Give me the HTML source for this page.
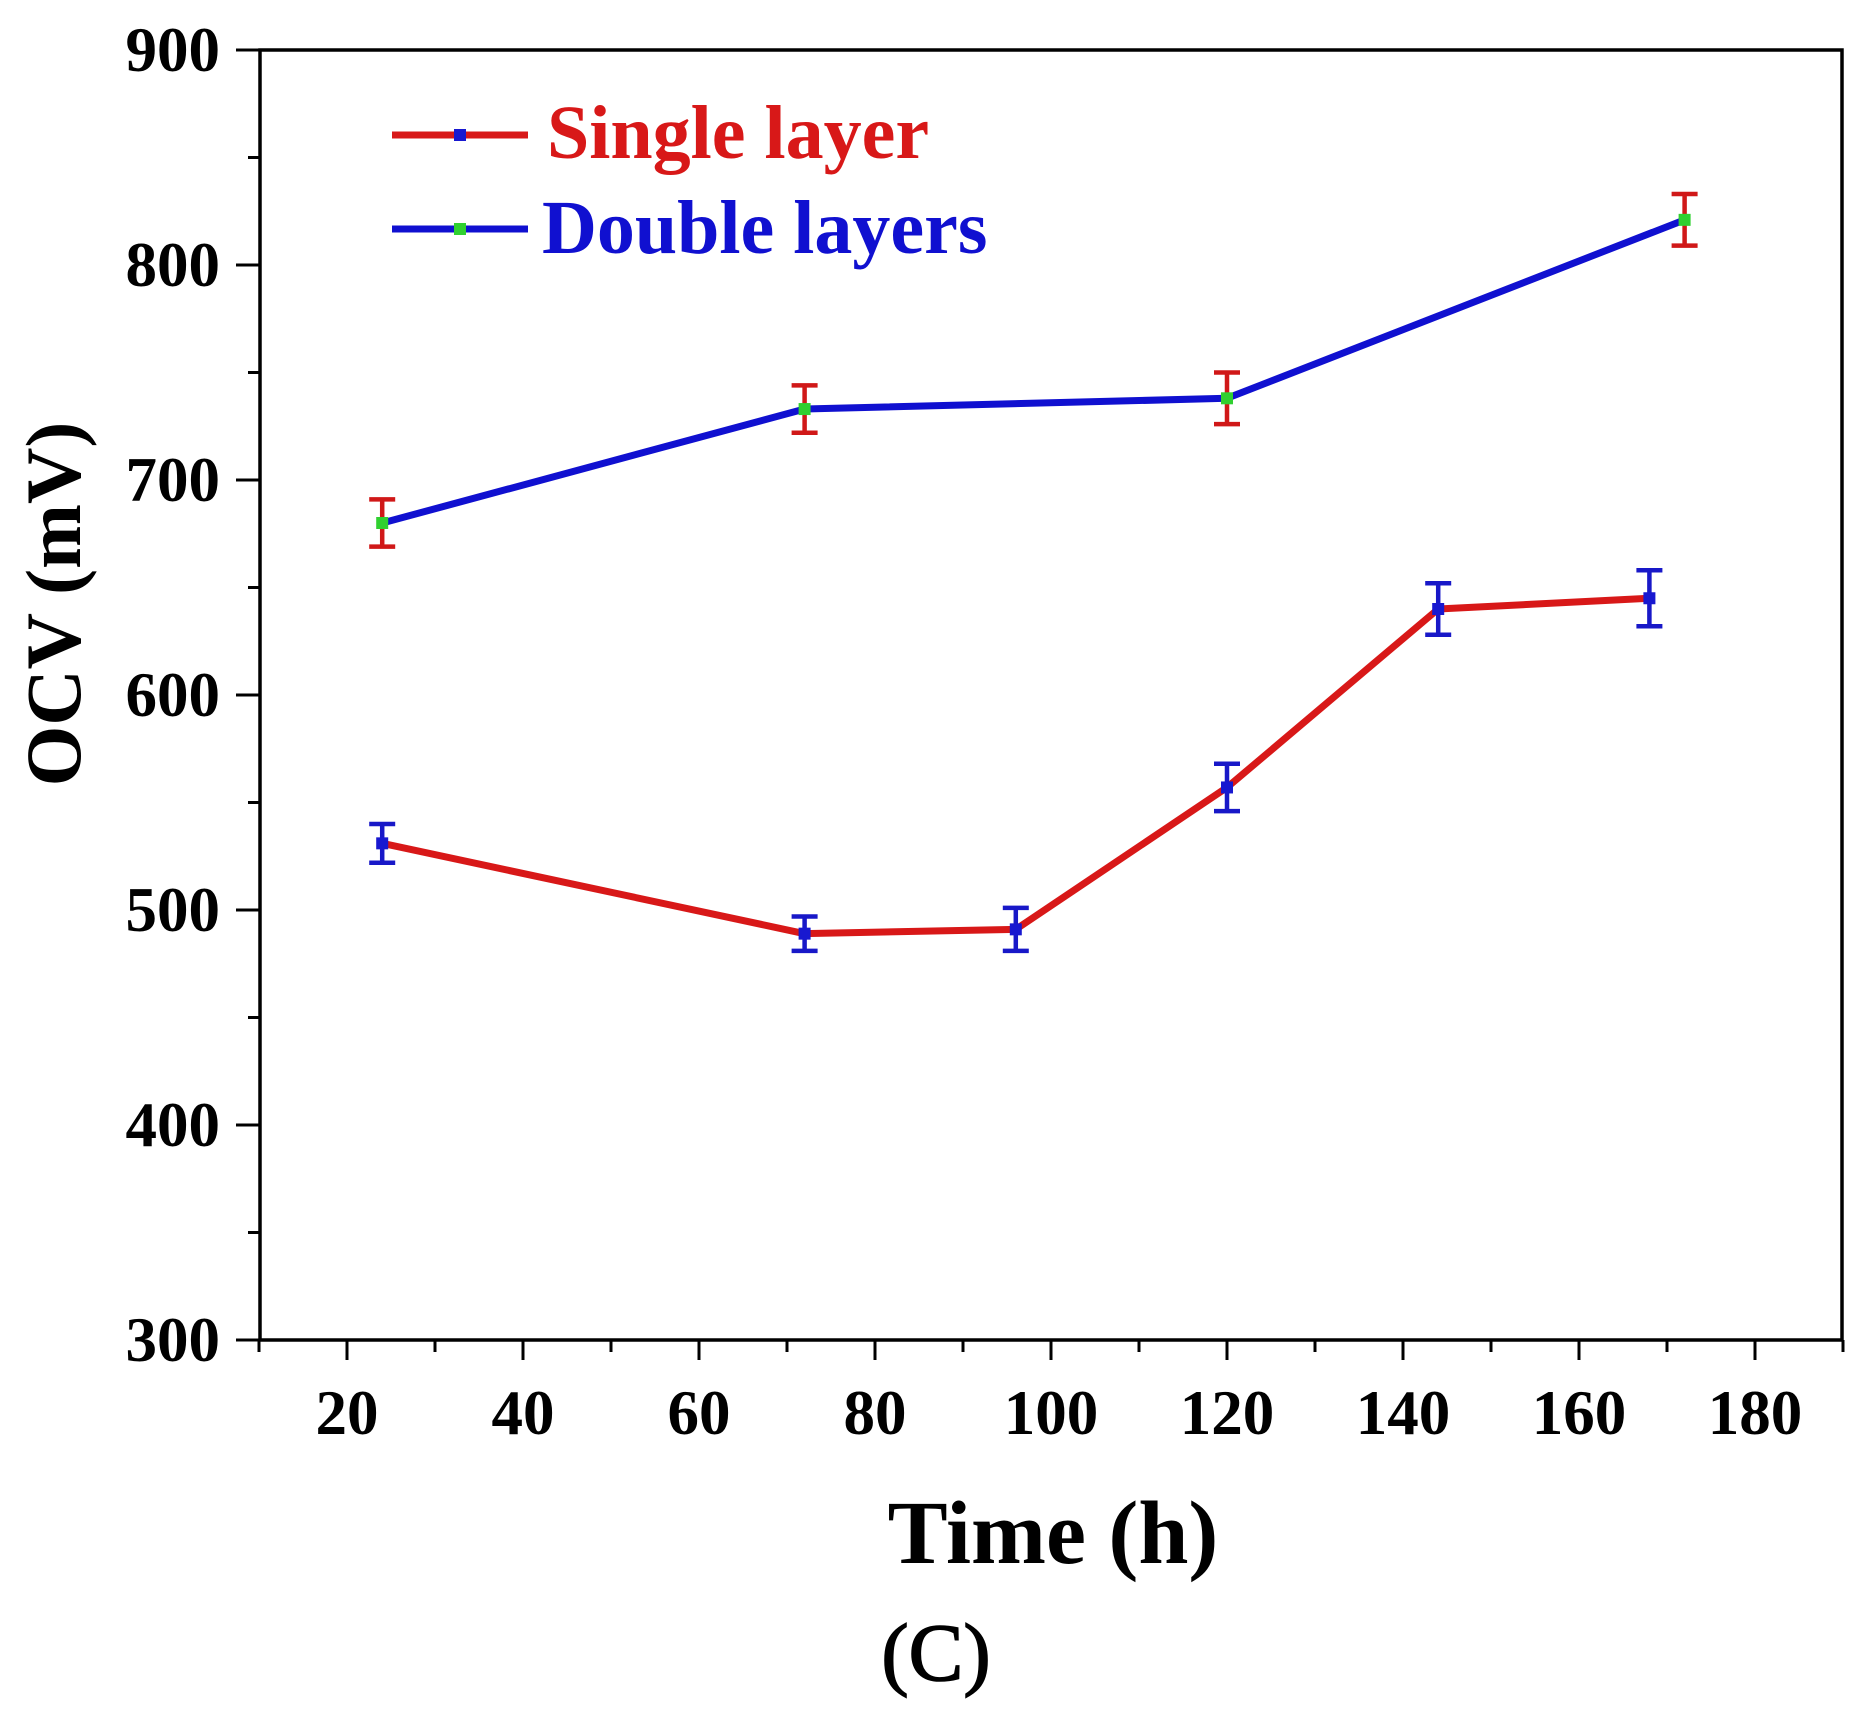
<!DOCTYPE html>
<html><head><meta charset="utf-8"><style>
html,body{margin:0;padding:0;background:#fff}
svg{display:block}
text{font-family:"Liberation Serif",serif;font-weight:bold}
</style></head><body>
<svg id="chart" width="1875" height="1722" viewBox="0 0 1875 1722"></svg>
<script>
const xTicks=[20,40,60,80,100,120,140,160,180];
const yTicks=[300,400,500,600,700,800,900];
const singleX=[24,72,96,120,144,168];
const singleY=[531,489,491,557,640,645];
const singleErr=[9,8,10,11,12,13];
const doubleX=[24,72,120,172];
const doubleY=[680,733,738,821];
const doubleErr=[11,11,12,12];

const L=260,R=1842,T=50,B=1340;
const sx=v=>347+(v-20)*(1755-347)/160;
const sy=v=>B-(v-300)*(B-T)/600;
const svg=document.getElementById('chart');
const NS='http://www.w3.org/2000/svg';
function mk(tag,at,parent){const e=document.createElementNS(NS,tag);for(const k in at)e.setAttribute(k,at[k]);(parent||svg).appendChild(e);return e;}

const frame=mk('rect',{x:L,y:T,width:R-L,height:B-T,fill:'none',stroke:'#000','stroke-width':3.5});



for(let v=10;v<=190;v+=10){
  const x=sx(v);if(x<L-1||x>R+1)continue;
  const major=v%20===0;
  const t=mk('line',{x1:x,y1:B,x2:x,y2:B+(major?20:12),stroke:'#000','stroke-width':3});
  
  
}
xTicks.forEach(v=>{
  const t=mk('text',{x:sx(v),y:1434,'font-size':63,'text-anchor':'middle',fill:'#000'});
  t.textContent=v;
  
  
});
for(let v=300;v<=900;v+=50){
  const major=v%100===0;
  const t=mk('line',{x1:L-(major?24:12),y1:sy(v),x2:L,y2:sy(v),stroke:'#000','stroke-width':3});
  
  
}
yTicks.forEach(v=>{
  const t=mk('text',{x:220,y:sy(v)+21,'font-size':63,'text-anchor':'end',fill:'#000'});
  t.textContent=v;
  
  
});
const xt=mk('text',{x:1053,y:1563,'font-size':90,'text-anchor':'middle',fill:'#000'});
xt.textContent='Time (h)';


const yt=mk('text',{x:0,y:0,'font-size':78,'text-anchor':'middle',fill:'#000',transform:'translate(80,604) rotate(-90)'});
yt.textContent='OCV (mV)';


const cap=mk('text',{x:936,y:1680,'font-size':82,'text-anchor':'middle',fill:'#000',stroke:'#000','stroke-width':1.5,style:'font-weight:normal'});
cap.textContent='(C)';



function series(xs,ys,es,lineCol,errCol,ptCol,name){
  const g=mk('g',{});
  
  
  const pts=xs.map((x,i)=>sx(x)+','+sy(ys[i])).join(' ');
  const pl=mk('polyline',{points:pts,fill:'none',stroke:lineCol,'stroke-width':7,'stroke-linejoin':'round'},g);
  
  
  xs.forEach((x,i)=>{
    const cx=sx(x),y1=sy(ys[i]+es[i]),y2=sy(ys[i]-es[i]);
    const eb=mk('path',{d:`M${cx},${y1}V${y2}M${cx-13},${y1}H${cx+13}M${cx-13},${y2}H${cx+13}`,stroke:errCol,'stroke-width':4.5,fill:'none'},g);
    
    
    const p=mk('rect',{x:cx-6,y:sy(ys[i])-6,width:12,height:12,fill:ptCol},g);
    
    
  });
}
series(doubleX,doubleY,doubleErr,'#1010d0','#d01818','#30d030','double-layers');
series(singleX,singleY,singleErr,'#d81818','#1818c8','#1818d0','single-layer');

function legend(y,col,pt,label,tx,ty,name){
  const g=mk('g',{});
  
  
  mk('line',{x1:392,y1:y,x2:528,y2:y,stroke:col,'stroke-width':7},g);
  mk('rect',{x:454,y:y-6,width:12,height:12,fill:pt},g);
  const t=mk('text',{x:tx,y:ty,'font-size':76,fill:col},g);
  t.textContent=label;
}
legend(135,'#d81818','#1818d0','Single layer',547,158,'legend-entry-single');
legend(229,'#1010d0','#30d030','Double layers',542,253,'legend-entry-double');
</script>
</body></html>
